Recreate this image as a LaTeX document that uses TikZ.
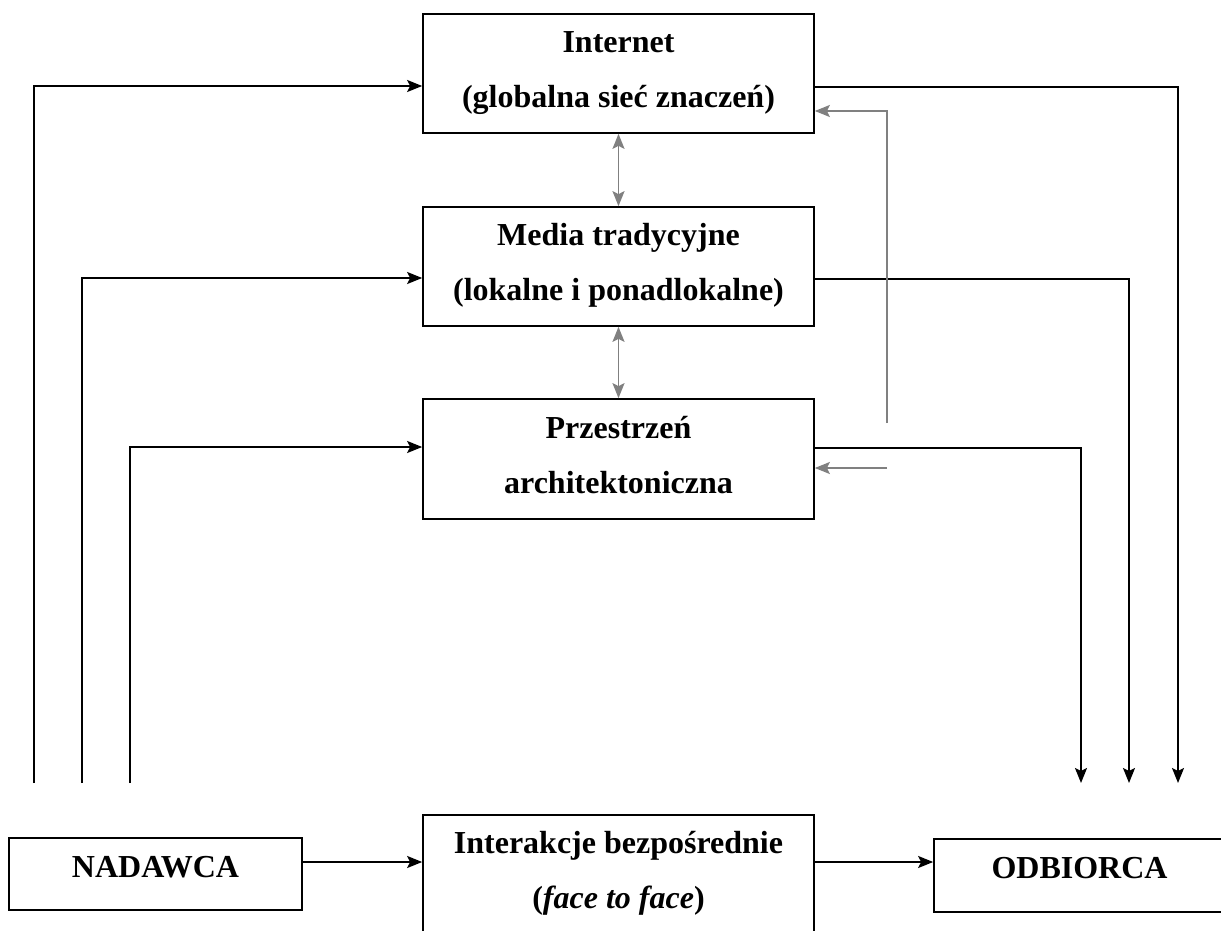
\documentclass[tikz,border=0pt]{standalone}
\usepackage{fontspec}
\setmainfont{Liberation Serif}
\usetikzlibrary{arrows.meta}
\newcommand{\topstrut}{\rule{0pt}{23pt}}
\newcommand{\botstrut}{\rule[-10pt]{0pt}{10pt}}
\newcommand{\onestrut}{\rule[-16pt]{0pt}{38pt}}
\tikzset{
  box/.style={draw=black, line width=1.7pt, rectangle, align=center, inner sep=0pt,
    font=\bfseries\fontsize{32}{55}\selectfont},
  bigbox/.style={box, minimum width=391pt, minimum height=119pt},
  endbox/.style={box, minimum width=292pt, minimum height=72pt},
  tip/.tip={Stealth[length=15pt,width=12pt,inset=3pt]},
  arr/.style={draw=black, line width=1.9pt, -tip},
  garr/.style={draw=black!50, line width=1.6pt, -tip},
  gdarr/.style={draw=black!50, line width=1.6pt, tip-tip}
}
\begin{document}
\begin{tikzpicture}[x=1pt,y=-1pt]
\useasboundingbox (0,0) rectangle (1221,931);
\fill[white] (0,0) rectangle (1221,931);

\node[bigbox] (inet) at (618.5,73.5) {\topstrut Internet\\(globalna sieć znaczeń)\botstrut};
\node[bigbox] (media) at (618.5,266.5) {\topstrut Media tradycyjne\\(lokalne i ponadlokalne)\botstrut};
\node[bigbox, minimum height=120pt] (przes) at (618.5,459) {\topstrut Przestrzeń\\architektoniczna\botstrut};
\node[bigbox] (inter) at (618.5,874.5) {\topstrut Interakcje bezpośrednie\\(\textit{face to face})\botstrut};
\node[endbox, minimum width=293pt] (nad) at (155.5,874) {\onestrut NADAWCA};
\node[endbox, minimum width=291pt, minimum height=73pt] (odb) at (1079.5,875.5) {\onestrut ODBIORCA};

% free ends
\coordinate (s1) at (34,783);
\coordinate (s2) at (82,783);
\coordinate (s3) at (130,783);
\coordinate (e1) at (1178,783);
\coordinate (e2) at (1129,783);
\coordinate (e3) at (1081,783);
\coordinate (g1) at (887,423);
\coordinate (g2) at (887,468);
\coordinate (ya) at (0,862);

% sender lines
\draw[arr] (s1) |- ([yshift=-12.5pt]inet.west);
\draw[arr] (s2) |- ([yshift=-11.5pt]media.west);
\draw[arr] (s3) |- ([yshift=12pt]przes.west);

% receiver lines
\draw[arr] ([yshift=-13.5pt]inet.east) -| (e1);
\draw[arr] ([yshift=-12.5pt]media.east) -| (e2);
\draw[arr] ([yshift=11pt]przes.east) -| (e3);

% gray lines
\draw[garr] (g1) |- ([yshift=-37.5pt]inet.east);
\draw[garr] (g2) -- (przes.east |- g2);
\draw[gdarr] (inet.south) -- (media.north);
\draw[gdarr] (media.south) -- (przes.north);

% bottom row
\draw[arr] (nad.east |- ya) -- (inter.west |- ya);
\draw[arr] (inter.east |- ya) -- (odb.west |- ya);
\end{tikzpicture}
\end{document}
